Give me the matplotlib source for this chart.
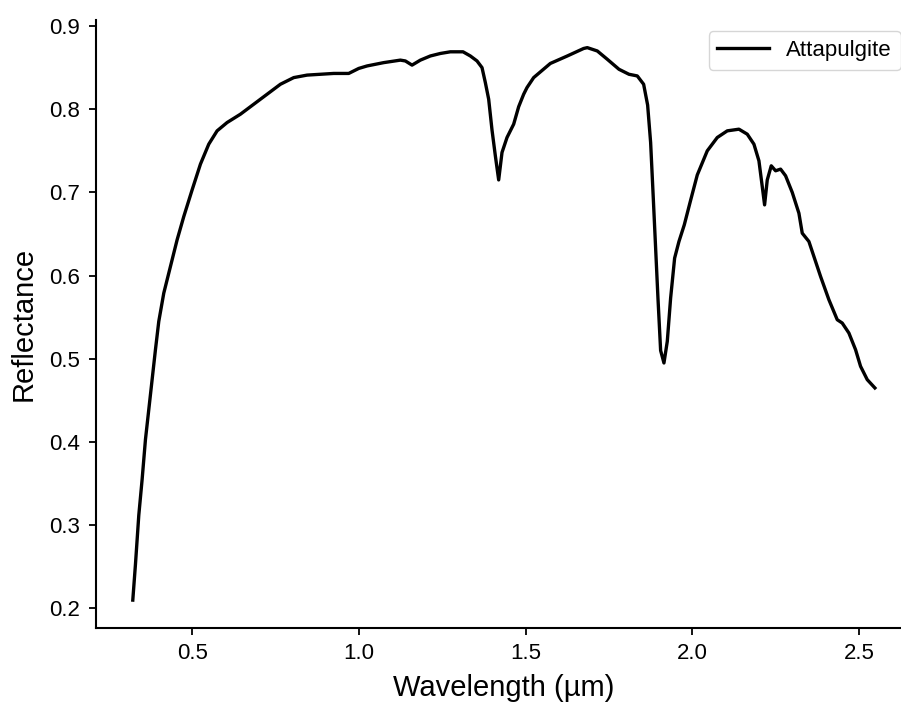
import numpy as np
import matplotlib.pyplot as plt

plt.rcParams['font.family'] = ['Liberation Sans', 'DejaVu Sans']

# spectrum of attapulgite (wavelength in micrometres, reflectance 0-1)
wavelength = [
    0.321, 0.329, 0.339, 0.349, 0.359, 0.369, 0.379, 0.389, 0.399, 0.414,
    0.434, 0.454, 0.474, 0.499, 0.524, 0.549, 0.574, 0.604, 0.644, 0.684,
    0.724, 0.764, 0.804, 0.844, 0.884, 0.924, 0.969, 0.999, 1.024, 1.074,
    1.124, 1.139, 1.159, 1.184, 1.214, 1.244, 1.274, 1.312, 1.334, 1.354,
    1.369, 1.379, 1.389, 1.399, 1.409, 1.419, 1.429, 1.444, 1.464, 1.479,
    1.494, 1.504, 1.524, 1.574, 1.625, 1.674, 1.685, 1.715, 1.745, 1.780,
    1.810, 1.835, 1.854, 1.866, 1.875, 1.883, 1.890, 1.897, 1.905, 1.915,
    1.925, 1.935, 1.947, 1.960, 1.976, 1.994, 2.015, 2.045, 2.075, 2.105,
    2.140, 2.165, 2.185, 2.200, 2.210, 2.217, 2.225, 2.237, 2.250, 2.265,
    2.280, 2.300, 2.320, 2.330, 2.350, 2.365, 2.385, 2.410, 2.435, 2.450,
    2.470, 2.490, 2.505, 2.525, 2.548,
]
reflectance = [
    0.210, 0.253, 0.312, 0.355, 0.403, 0.439, 0.475, 0.511, 0.545, 0.579,
    0.611, 0.643, 0.671, 0.703, 0.734, 0.758, 0.774, 0.784, 0.794, 0.806,
    0.818, 0.830, 0.838, 0.841, 0.842, 0.843, 0.843, 0.849, 0.852, 0.856,
    0.859, 0.858, 0.853, 0.859, 0.864, 0.867, 0.869, 0.869, 0.864, 0.858,
    0.850, 0.832, 0.812, 0.775, 0.744, 0.715, 0.748, 0.766, 0.782, 0.803,
    0.818, 0.826, 0.838, 0.855, 0.864, 0.873, 0.874, 0.870, 0.860, 0.848,
    0.842, 0.840, 0.830, 0.805, 0.760, 0.693, 0.633, 0.573, 0.510, 0.495,
    0.521, 0.573, 0.621, 0.641, 0.661, 0.689, 0.721, 0.750, 0.766, 0.774,
    0.776, 0.770, 0.758, 0.738, 0.707, 0.685, 0.715, 0.732, 0.726, 0.728,
    0.720, 0.700, 0.675, 0.651, 0.641, 0.623, 0.599, 0.571, 0.547, 0.543,
    0.531, 0.511, 0.491, 0.475, 0.465,
]
sample = 'Attapulgite'

fig = plt.figure(figsize=(9.01, 7.05), dpi=100)
ax = fig.add_axes([0.1062, 0.1096, 0.906, 0.862])

ax.plot(np.array(wavelength), np.array(reflectance), color='black', lw=2.4, label=sample)

ax.set_xlabel('Wavelength (µm)', fontsize=21, labelpad=7)
ax.set_ylabel('Reflectance', fontsize=21, labelpad=8)
ax.set_xticks([0.5, 1.0, 1.5, 2.0, 2.5])
ax.set_yticks([0.2, 0.3, 0.4, 0.5, 0.6, 0.7, 0.8, 0.9])
ax.tick_params(labelsize=16, length=4.8, width=1.3, pad=6.5)

for s in ['top', 'right']:
    ax.spines[s].set_visible(False)
for s in ['left', 'bottom']:
    ax.spines[s].set_linewidth(1.5)

ax.legend(loc='upper right', fontsize=16, handlelength=2.3)

fig.savefig('out.png', dpi=100)
